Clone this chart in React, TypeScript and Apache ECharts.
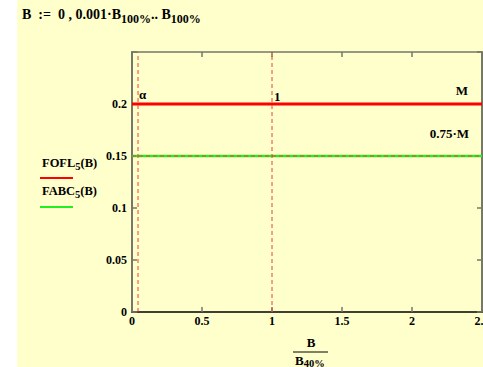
import React, { useEffect, useRef } from "react";
import * as echarts from "echarts";

// Data
const xDomain = [0, 2.5];
const foflValues = [0.2, 0.2];
const fabcValues = [0.15, 0.15];
const alphaX = 0.043;
const oneX = 1;
const M = 0.2;
const yDomain = [0, 0.25];
const xTickLabels = ["0", "0.5", "1", "1.5", "2", "2.5"];
const yTickLabels = ["0", "0.05", "0.1", "0.15", "0.2"];

const FONT = "Liberation Serif";
const AXIS_GRAY = "#77776a";
const DASH_RED = "#f03c3c";

let measureCtx: CanvasRenderingContext2D | null = null;
function measure(text: string, size: number) {
  if (!measureCtx) measureCtx = document.createElement("canvas").getContext("2d");
  measureCtx!.font = `bold ${size}px "${FONT}"`;
  return measureCtx!.measureText(text).width;
}

// parts: [text, isSubscript]; y = vertical middle of the main text
function subText(x: number, y: number, parts: [string, boolean][], main: number, sub: number, drop: number) {
  const els: any[] = [];
  let cx = x;
  for (const [t, isSub] of parts) {
    const size = isSub ? sub : main;
    els.push({
      type: "text",
      x: cx,
      y: isSub ? y + drop : y,
      style: { text: t, fontFamily: FONT, fontWeight: "bold", fontSize: size, fill: "#000", textVerticalAlign: "middle" },
    });
    cx += measure(t, size);
  }
  return els;
}

export default function App() {
  const ref = useRef<HTMLDivElement>(null);
  useEffect(() => {
    document.body.style.margin = "0";
    const chart = echarts.init(ref.current!, null, { renderer: "svg" });
    const base = { fontFamily: FONT, fontWeight: "bold" as const, color: "#000" };
    const option: any = {
      animation: false,
      backgroundColor: "#ffffff",
      grid: { left: 132, right: 1, top: 52, bottom: 55, outerBoundsMode: "none", containLabel: false },
      xAxis: [
        {
          type: "value",
          position: "bottom",
          min: xDomain[0],
          max: xDomain[1],
          interval: 0.5,
          splitLine: { show: false },
          axisLine: { onZero: false, lineStyle: { color: "#000", width: 1.5 } },
          axisTick: { inside: true, length: 5, lineStyle: { color: AXIS_GRAY, width: 1.5 } },
          axisLabel: {
            ...base,
            fontSize: 12,
            margin: 3,
            formatter: (v: number) => xTickLabels[Math.round(v / 0.5)] ?? "",
          },
        },
        {
          type: "value",
          position: "top",
          min: xDomain[0],
          max: xDomain[1],
          interval: 0.5,
          splitLine: { show: false },
          axisLine: { onZero: false, lineStyle: { color: AXIS_GRAY, width: 1.5 } },
          axisTick: { inside: true, length: 5, lineStyle: { color: AXIS_GRAY, width: 1.5 } },
          axisLabel: { show: false },
        },
      ],
      yAxis: [
        {
          type: "value",
          position: "left",
          min: yDomain[0],
          max: yDomain[1],
          interval: 0.05,
          splitLine: { show: false },
          axisLine: { show: true, onZero: false, lineStyle: { color: AXIS_GRAY, width: 2 } },
          axisTick: { show: true, inside: true, length: 5, lineStyle: { color: AXIS_GRAY, width: 1.5 } },
          axisLabel: {
            ...base,
            fontSize: 12,
            margin: 5,
            formatter: (v: number) => yTickLabels[Math.round(v / 0.05)] ?? "",
          },
        },
        {
          type: "value",
          position: "right",
          min: yDomain[0],
          max: yDomain[1],
          interval: 0.05,
          splitLine: { show: false },
          axisLine: { show: true, onZero: false, lineStyle: { color: AXIS_GRAY, width: 2 } },
          axisTick: { show: true, inside: true, length: 5, lineStyle: { color: AXIS_GRAY, width: 1.5 } },
          axisLabel: { show: false },
        },
      ],
      series: [
        {
          name: "FABC5(B)",
          type: "line",
          symbol: "none",
          data: xDomain.map((x, i) => [x, fabcValues[i]]),
          lineStyle: { color: "#22ee22", width: 2.5 },
          z: 3,
        },
        {
          name: "dash015",
          type: "line",
          symbol: "none",
          data: xDomain.map((x, i) => [x, fabcValues[i]]),
          lineStyle: { color: DASH_RED, width: 1, type: [4, 3] },
          z: 4,
        },
        {
          name: "FOFL5(B)",
          type: "line",
          symbol: "none",
          data: xDomain.map((x, i) => [x, foflValues[i]]),
          lineStyle: { color: "#ff0000", width: 3 },
          z: 3,
        },
        {
          name: "alpha",
          type: "line",
          symbol: "none",
          data: [
            [alphaX, yDomain[0]],
            [alphaX, yDomain[1]],
          ],
          lineStyle: { color: DASH_RED, width: 1, type: [4, 3] },
          z: 4,
        },
        {
          name: "one",
          type: "line",
          symbol: "none",
          data: [
            [oneX, yDomain[0]],
            [oneX, yDomain[1]],
          ],
          lineStyle: { color: DASH_RED, width: 1, type: [4, 3] },
          z: 4,
        },
      ],
    };
    chart.setOption(option);

    const px = (x: number, y: number) => chart.convertToPixel({ xAxisIndex: 0, yAxisIndex: 0 }, [x, y]) as number[];
    const pAlpha = px(alphaX, M);
    const pOne = px(oneX, M);
    const pM = px(xDomain[1], M);
    const p075 = px(xDomain[1], 0.75 * M);

    chart.setOption({
      graphic: [
        { type: "rect", z: -10, shape: { x: 17, y: 0, width: 483 - 17, height: 367 }, style: { fill: "#ffffcc" }, silent: true },
        ...subText(
          22,
          14,
          [
            ["B  :=  0 , 0.001·B", false],
            ["100%", true],
            [".. B", false],
            ["100%", true],
          ],
          14,
          12,
          5
        ),
        { type: "text", x: pAlpha[0] + 1, y: pAlpha[1] - 3, style: { ...base, text: "α", fontSize: 13, textVerticalAlign: "bottom" } },
        { type: "text", x: pOne[0] + 2, y: pOne[1] - 1, style: { ...base, text: "1", fontSize: 13, textVerticalAlign: "bottom" } },
        { type: "text", x: pM[0] - 14, y: pM[1] - 7, style: { ...base, text: "M", fontSize: 13, textAlign: "right", textVerticalAlign: "bottom" } },
        { type: "text", x: p075[0] - 13, y: p075[1] - 16, style: { ...base, text: "0.75·M", fontSize: 13, textAlign: "right", textVerticalAlign: "bottom" } },
        // Legend
        ...subText(42, 163, [["FOFL", false], ["5", true], ["(B)", false]], 12.5, 10.5, 3),
        { type: "line", shape: { x1: 40, y1: 178, x2: 73, y2: 178 }, style: { stroke: "#ff0000", lineWidth: 2 } },
        ...subText(42, 191, [["FABC", false], ["5", true], ["(B)", false]], 12.5, 10.5, 3),
        { type: "line", shape: { x1: 40, y1: 207, x2: 73, y2: 207 }, style: { stroke: "#22ee22", lineWidth: 2 } },
        // X axis title: B / B40%
        { type: "text", x: 311, y: 349, style: { ...base, text: "B", fontSize: 13, textAlign: "center", textVerticalAlign: "bottom" } },
        { type: "line", shape: { x1: 293, y1: 352, x2: 328, y2: 352 }, style: { stroke: "#000", lineWidth: 1 } },
        ...subText(295, 360, [["B", false], ["40%", true]], 13, 10.5, 3),
      ],
    });
    return () => chart.dispose();
  }, []);
  return <div ref={ref} style={{ position: "absolute", left: 0, top: 0, width: 483, height: 367 }} />;
}
